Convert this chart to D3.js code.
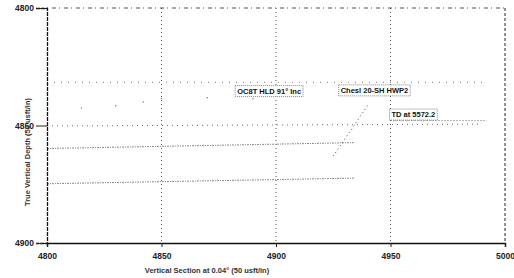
<!DOCTYPE html>
<html><head><meta charset="utf-8">
<script src="https://cdn.jsdelivr.net/npm/d3@7"></script>
<style>
html,body{margin:0;padding:0;background:#fff;}
svg{display:block;}
text{font-family:"Liberation Sans",Arial,sans-serif;}
</style></head>
<body>
<svg id="c" width="514" height="278"></svg>
<script>
// ---- data ----
const vsTicks  = [4800, 4850, 4900, 4950, 5000];
const tvdTicks = [4800, 4850, 4900];
const vsDomain  = [4800, 5000];
const tvdDomain = [4800, 4900];

// reference / formation lines (VS, TVD pairs)
const topLineVS   = [4800, 4990];  const topLineTVD   = [4831.6, 4831.6];
const midLineVS   = [4800, 4990];  const midLineTVD   = [4850.2, 4849.4];
const upperLineVS = [4800, 4934];  const upperLineTVD = [4859.8, 4857.3];
const lowerLineVS = [4800, 4934];  const lowerLineTVD = [4874.8, 4872.4];
const tdLineVS    = [4950, 4992];  const tdLineTVD    = [4847.9, 4847.9];
const sparseVS    = [4815, 4830, 4842, 4850, 4870, 4890];
const sparseTVD   = [4842.5, 4841.6, 4840.0, 4838.5, 4838.2, 4838.6];
// well path leader near the landing label
const pathVS  = [4925, 4932, 4940];
const pathTVD = [4863.0, 4853.0, 4841.5];

// annotations
const annText = ["OC8T HLD 91° Inc", "Chesl 20-SH HWP2", "TD at 5572.2"];
const annVS   = [4897, 4943, 4960];
const annTVD  = [4835.3, 4835.0, 4845.3];

// ---- drawing ----
const svg = d3.select("#c");
const L = 47, R = 505, T = 8, B = 243;
const x = d3.scaleLinear().domain(vsDomain).range([L, R]);
const y = d3.scaleLinear().domain(tvdDomain).range([T, B]);
const line = d3.line().x(d => x(d[0])).y(d => y(d[1]));
const zip = (a, b) => a.map((v, i) => [v, b[i]]);

// vertical grid lines
svg.append("g").selectAll("line").data([4850, 4900, 4950]).join("line")
  .attr("x1", d => x(d)).attr("x2", d => x(d)).attr("y1", T).attr("y2", B)
  .attr("stroke", "#555").attr("stroke-width", 1).attr("stroke-dasharray", "1,3");
// right border dashed
svg.append("line").attr("x1", x(5000)).attr("x2", x(5000)).attr("y1", T).attr("y2", B)
  .attr("stroke", "#222").attr("stroke-width", 1).attr("stroke-dasharray", "3,2");
// top border dotted
svg.append("line").attr("x1", L).attr("x2", R).attr("y1", y(4800)).attr("y2", y(4800))
  .attr("stroke", "#555").attr("stroke-width", 1).attr("stroke-dasharray", "1,4,4,3");

// formation lines
const lines = [
  [topLineVS, topLineTVD, "1,6", "#777"],
  [midLineVS, midLineTVD, "1,4", "#666"],
  [upperLineVS, upperLineTVD, "2,1,1,1", "#888"],
  [lowerLineVS, lowerLineTVD, "2,1,1,1", "#888"],
  [tdLineVS, tdLineTVD, "1,2", "#666"]
];
lines.forEach(([a, b, dash, col]) => {
  svg.append("path").attr("d", line(zip(a, b))).attr("fill", "none")
    .attr("stroke", col).attr("stroke-width", 1).attr("stroke-dasharray", dash);
});
svg.append("g").selectAll("circle").data(zip(sparseVS, sparseTVD)).join("circle")
  .attr("cx", d => x(d[0])).attr("cy", d => y(d[1])).attr("r", 0.7).attr("fill", "#777");
svg.append("path").attr("d", line(zip(pathVS, pathTVD))).attr("fill", "none")
  .attr("stroke", "#444").attr("stroke-width", 1).attr("stroke-dasharray", "1,3");

// axes
const xAxis = d3.axisBottom(x).tickValues(vsTicks).tickSize(4).tickFormat(d3.format("d"));
const gx = svg.append("g").attr("transform", `translate(0,${B})`).call(xAxis);
gx.select(".domain").attr("stroke", "#111").attr("stroke-width", 1.5);
gx.selectAll(".tick line").attr("stroke", "#222");
gx.selectAll("text").attr("font-size", 8.5).attr("font-weight", "bold").attr("fill", "#222").attr("dy", "1.1em");

const yAxis = d3.axisLeft(y).tickValues(tvdTicks).tickSize(11).tickFormat(d3.format("d"));
const gy = svg.append("g").attr("transform", `translate(${L},0)`).call(yAxis);
gy.select(".domain").attr("stroke", "#111").attr("stroke-width", 1.3).attr("stroke-dasharray", "4,1");
gy.selectAll(".tick line").attr("stroke", "#222");
gy.selectAll("text").attr("font-size", 8.5).attr("font-weight", "bold").attr("fill", "#222").attr("x", -13);

// axis titles
svg.append("text").attr("x", 207).attr("y", 273).attr("text-anchor", "middle")
  .attr("font-size", 7.5).attr("font-weight", "bold").attr("fill", "#333")
  .text("Vertical Section at 0.04° (50 usft/in)");
svg.append("text").attr("transform", "translate(30,152) rotate(-90)").attr("text-anchor", "middle")
  .attr("font-size", 7.5).attr("font-weight", "bold").attr("fill", "#333")
  .text("True Vertical Depth (50 usft/in)");

// annotations
annText.forEach((t, i) => {
  const g = svg.append("g").attr("transform", `translate(${x(annVS[i])},${y(annTVD[i])})`);
  const txt = g.append("text").attr("text-anchor", "middle").attr("dy", "0.35em")
    .attr("font-size", 7.5).attr("font-weight", "bold").attr("fill", "#111").text(t);
  const bb = txt.node().getBBox();
  g.insert("rect", "text").attr("x", bb.x - 2).attr("y", bb.y - 1)
    .attr("width", bb.width + 4).attr("height", bb.height + 2)
    .attr("fill", "#fff").attr("stroke", "#666").attr("stroke-width", 0.8).attr("stroke-dasharray", "1,1");
});
</script>
</body></html>
